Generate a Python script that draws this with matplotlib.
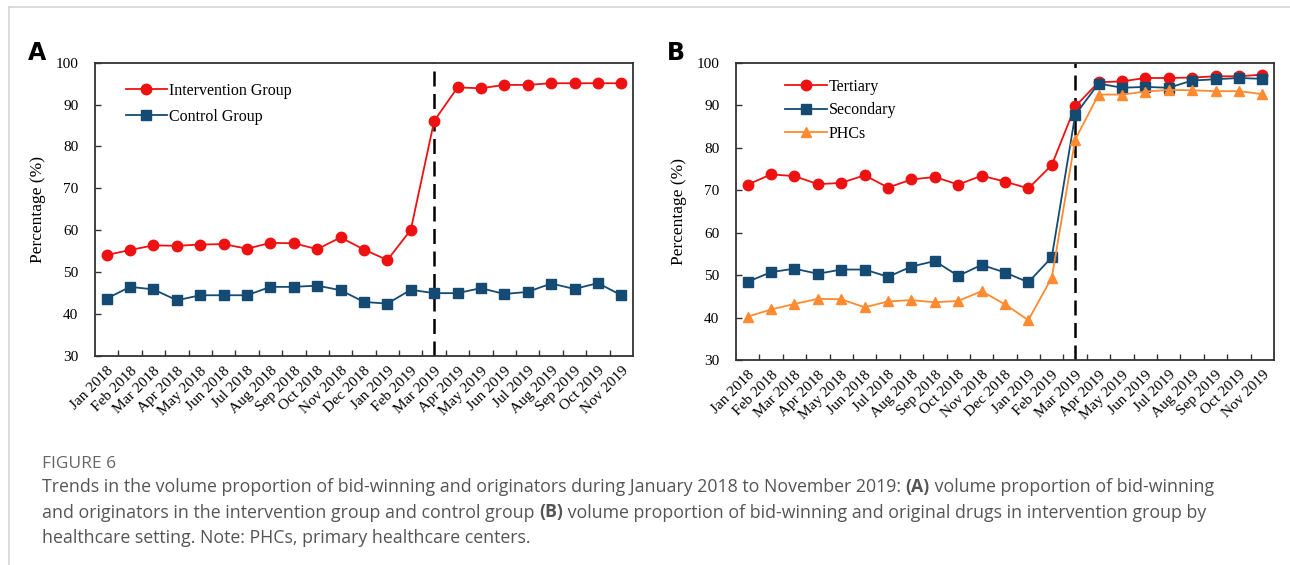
import matplotlib.pyplot as plt
from matplotlib.lines import Line2D

months = ["Jan 2018", "Feb 2018", "Mar 2018", "Apr 2018", "May 2018", "Jun 2018",
          "Jul 2018", "Aug 2018", "Sep 2018", "Oct 2018", "Nov 2018", "Dec 2018",
          "Jan 2019", "Feb 2019", "Mar 2019", "Apr 2019", "May 2019", "Jun 2019",
          "Jul 2019", "Aug 2019", "Sep 2019", "Oct 2019", "Nov 2019"]

intervention = [54.1, 55.3, 56.4, 56.3, 56.6, 56.7, 55.6, 57.0, 56.9, 55.5, 58.3, 55.4,
                52.9, 60.1, 86.1, 94.1, 93.9, 94.7, 94.7, 95.1, 95.1, 95.1, 95.1]
control = [43.7, 46.5, 45.9, 43.3, 44.5, 44.5, 44.5, 46.5, 46.5, 46.8, 45.7, 42.9,
           42.5, 45.8, 45.0, 45.0, 46.2, 44.8, 45.3, 47.3, 46.0, 47.4, 44.5]

tertiary = [71.3, 73.7, 73.3, 71.4, 71.7, 73.5, 70.6, 72.5, 73.1, 71.3, 73.4, 72.0,
            70.4, 75.9, 89.7, 95.4, 95.6, 96.4, 96.4, 96.5, 96.8, 96.8, 97.2]
secondary = [48.4, 50.7, 51.5, 50.3, 51.3, 51.3, 49.6, 52.0, 53.3, 49.8, 52.4, 50.6,
             48.3, 54.2, 87.7, 95.1, 94.1, 94.3, 94.1, 95.8, 96.1, 96.4, 96.2]
phcs = [40.2, 41.9, 43.2, 44.4, 44.3, 42.4, 43.8, 44.1, 43.6, 43.9, 46.2, 43.1,
        39.4, 49.4, 81.9, 92.5, 92.5, 93.2, 93.6, 93.5, 93.3, 93.3, 92.6]

policy_month = "Mar 2019"

RED = "#EE1111"
NAVY = "#154A72"
ORANGE = "#FF8A30"
SERIF = ["Liberation Serif", "DejaVu Serif"]

fig = plt.figure(figsize=(12.9, 5.65), dpi=100)

# thin frame of the page
fig.add_artist(Line2D([9/1290, 9/1290], [0, 1 - 7/565], color="#d4d4d4", lw=1.2))
fig.add_artist(Line2D([9/1290, 1], [1 - 7/565, 1 - 7/565], color="#d4d4d4", lw=1.2))

axA = fig.add_axes([95/1290, 1 - 356/565, 538/1290, 293.3/565])
axB = fig.add_axes([736/1290, 1 - 360/565, 538/1290, 297.3/565])

x = list(range(len(months)))
px = months.index(policy_month)


def style(ax):
    ax.set_xlim(-0.5, len(months) - 0.5)
    ax.set_ylim(30, 100)
    ax.set_yticks(range(30, 101, 10))
    ax.set_xticks(x)
    ax.set_xticks([i + 0.5 for i in x[:-1]], minor=True)
    ax.set_xticklabels(months, rotation=45, ha="right", rotation_mode="anchor",
                       family=SERIF, fontsize=11)
    ax.tick_params(axis="x", which="major", length=0, pad=6)
    ax.tick_params(axis="x", which="minor", direction="in", length=4, width=1, color="#333333")
    ax.tick_params(axis="y", direction="in", length=4, width=1, color="#333333",
                   labelsize=11, pad=12)
    for lab in ax.get_yticklabels():
        lab.set_family(SERIF)
    for s in ax.spines.values():
        s.set_color("#333333")
        s.set_linewidth(1.3)
    ax.set_ylabel("Percentage (%)", family=SERIF, fontsize=12.5, labelpad=7)
    ax.axvline(px, color="black", lw=1.8, ls=(0, (6, 3)), zorder=1)


style(axA)
style(axB)

kw = dict(lw=1.3, markersize=7.5, zorder=3)
axA.plot(x, intervention, color=RED, marker="o", label="Intervention Group", **kw)
axA.plot(x, control, color=NAVY, marker="s", label="Control Group", **kw)
axA.legend(loc="upper left", bbox_to_anchor=(0.03, 0.98), frameon=False,
           handlelength=2.6, handletextpad=0.1, labelspacing=0.62,
           prop={"family": SERIF, "size": 11.5})

axB.plot(x, tertiary, color=RED, marker="o", label="Tertiary", **kw)
axB.plot(x, secondary, color=NAVY, marker="s", label="Secondary", **kw)
axB.plot(x, phcs, color=ORANGE, marker="^", label="PHCs", **kw)
axB.legend(loc="upper left", bbox_to_anchor=(0.065, 0.995), frameon=False,
           handlelength=2.6, handletextpad=0.1, labelspacing=0.48,
           prop={"family": SERIF, "size": 11.5})

fig.text(28/1290, 1 - 60/565, "A", fontsize=17, fontweight="bold", family="DejaVu Sans")
fig.text(667/1290, 1 - 60/565, "B", fontsize=17, fontweight="bold", family="DejaVu Sans")

# caption
fig.text(42/1290, 1 - 468/565, "FIGURE 6", fontsize=12.5, color="#666666", family="Open Sans")

lines = [
    [("Trends in the volume proportion of bid-winning and originators during January 2018 to November 2019: ", False),
     ("(A)", True), (" volume proportion of bid-winning", False)],
    [("and originators in the intervention group and control group ", False), ("(B)", True),
     (" volume proportion of bid-winning and original drugs in intervention group by", False)],
    [("healthcare setting. Note: PHCs, primary healthcare centers.", False)],
]
renderer = fig.canvas.get_renderer()
y0 = 1 - 492/565
for row in lines:
    xpos = 42/1290
    for txt, bold in row:
        t = fig.text(xpos, y0, txt, fontsize=12.8, color="#555555", family="Open Sans",
                     fontweight="bold" if bold else "normal")
        bb = t.get_window_extent(renderer=renderer)
        xpos += bb.width / fig.bbox.width
    y0 -= 25.5/565

fig.savefig("out.png", dpi=100)
